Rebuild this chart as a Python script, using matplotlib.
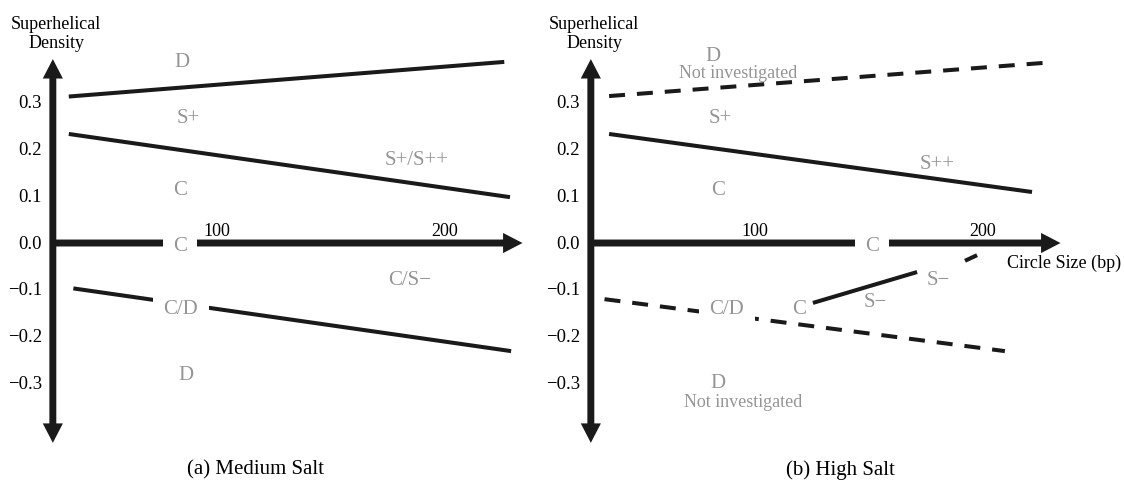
import matplotlib
matplotlib.use('Agg')
import matplotlib.pyplot as plt
from matplotlib.patches import FancyArrowPatch

plt.rcParams['font.family'] = ['Liberation Serif', 'DejaVu Serif']
plt.rcParams['lines.scale_dashes'] = False

INK = '#1a1a1a'
GRAY = '#959595'
DASH = (11.5, 8.6)

# shared frame: circle size (bp) vs superhelical density
axis_x = 28
axis_top, axis_bottom, axis_right = 0.393, -0.427, 234
yticks = [0.3, 0.2, 0.1, 0.0, -0.1, -0.2, -0.3]
ytick_labels = ['0.3', '0.2', '0.1', '0.0', '−0.1', '−0.2', '−0.3']
xmarks = [100, 200]

# (a) medium salt -- phase boundaries
a_upper_x, a_upper_y = [35, 226], [0.313, 0.387]
a_mid_x, a_mid_y = [35, 228.5], [0.233, 0.098]
a_low_x, a_low_y = [37, 229], [-0.097, -0.231]
# region labels: text, x, y, masks the line underneath
a_labels = [('D', 84.6, 0.387, False),
            ('S+', 87.3, 0.269, False),
            ('C', 83.8, 0.115, False),
            ('C', 83.8, -0.006, True),
            ('S+/S++', 187.7, 0.179, False),
            ('C/S−', 184.6, -0.077, False),
            ('C/D', 84.2, -0.139, True),
            ('D', 86.4, -0.280, False)]

# (b) high salt -- phase boundaries
b_upper_x, b_upper_y = [36, 227], [0.314, 0.385]        # dashed
b_mid_x, b_mid_y = [36, 221.5], [0.233, 0.109]
b_low_x, b_low_y = [34, 209.6], [-0.120, -0.231]         # dashed
b_sm_x, b_sm_y = [125.4, 171.1], [-0.128, -0.062]
b_sm_ext_x, b_sm_ext_y = [192.1, 197.4], [-0.038, -0.026]  # dashed
b_labels = [('D', 81.6, 0.400, False),
            ('S+', 84.6, 0.269, False),
            ('C', 83.8, 0.115, False),
            ('S++', 179.8, 0.169, False),
            ('C', 151.3, -0.006, True),
            ('S−', 180.3, -0.077, False),
            ('S−', 152.6, -0.126, False),
            ('C/D', 87.7, -0.139, True),
            ('C', 119.3, -0.139, False),
            ('D', 83.8, -0.297, False)]
b_notes = [('Not investigated', 92.5, 0.365),
           ('Not investigated', 94.7, -0.338)]


def draw_frame(ax, caption, caption_x):
    ax.set_xlim(4.825, 251.32)
    ax.set_ylim(-0.5064, 0.5214)
    ax.axis('off')
    style = 'simple,head_length=1.4,head_width=1.45,tail_width=0.5'
    for end in [(axis_x, axis_top), (axis_x, axis_bottom), (axis_right, 0)]:
        ax.add_patch(FancyArrowPatch((axis_x, 0), end, arrowstyle=style,
                                     mutation_scale=10, color=INK, lw=0,
                                     shrinkA=0, shrinkB=0, zorder=3))
    for v, lab in zip(yticks, ytick_labels):
        ax.text(23.3, v, lab, ha='right', va='center', fontsize=13.5)
    for m in xmarks:
        ax.text(m, 0.026, str(m), ha='center', va='center', fontsize=13)
    ax.text(29.5, 0.449, 'Superhelical\nDensity', ha='center', va='center',
            fontsize=13, linespacing=1.15)
    ax.text(caption_x, -0.483, caption, ha='center', va='center', fontsize=15)


def draw_labels(ax, labels):
    for text, x, y, mask in labels:
        kw = {}
        if mask:
            kw['bbox'] = dict(boxstyle='square,pad=0.5', fc='white', ec='none')
        ax.text(x, y, text, ha='center', va='center', fontsize=15,
                color=GRAY, zorder=5, **kw)


fig = plt.figure(figsize=(11.24, 4.81), dpi=100)
ax_a = fig.add_axes([0, 0, 0.5, 1])
ax_b = fig.add_axes([538 / 1124, 0, 0.5, 1])
for ax in (ax_a, ax_b):
    ax.patch.set_visible(False)

# (a)
draw_frame(ax_a, '(a) Medium Salt', 117.1)
for xs, ys in [(a_upper_x, a_upper_y), (a_mid_x, a_mid_y), (a_low_x, a_low_y)]:
    ax_a.plot(xs, ys, color=INK, lw=2.9, solid_capstyle='butt', zorder=2)
draw_labels(ax_a, a_labels)

# (b)
draw_frame(ax_b, '(b) High Salt', 137.3)
ax_b.plot(b_upper_x, b_upper_y, color=INK, lw=2.9, dashes=DASH, zorder=2)
ax_b.plot(b_mid_x, b_mid_y, color=INK, lw=2.9, solid_capstyle='butt', zorder=2)
ax_b.plot(b_low_x, b_low_y, color=INK, lw=2.9, dashes=DASH, zorder=2)
ax_b.plot(b_sm_x, b_sm_y, color=INK, lw=2.9, solid_capstyle='butt', zorder=2)
ax_b.plot(b_sm_ext_x, b_sm_ext_y, color=INK, lw=2.9, dashes=DASH, zorder=2)
draw_labels(ax_b, b_labels)
for text, x, y in b_notes:
    ax_b.text(x, y, text, ha='center', va='center', fontsize=13, color=GRAY)
ax_b.text(235.5, -0.041, 'Circle Size (bp)', ha='center', va='center',
          fontsize=13, clip_on=False)

fig.savefig('out.png', dpi=100)
